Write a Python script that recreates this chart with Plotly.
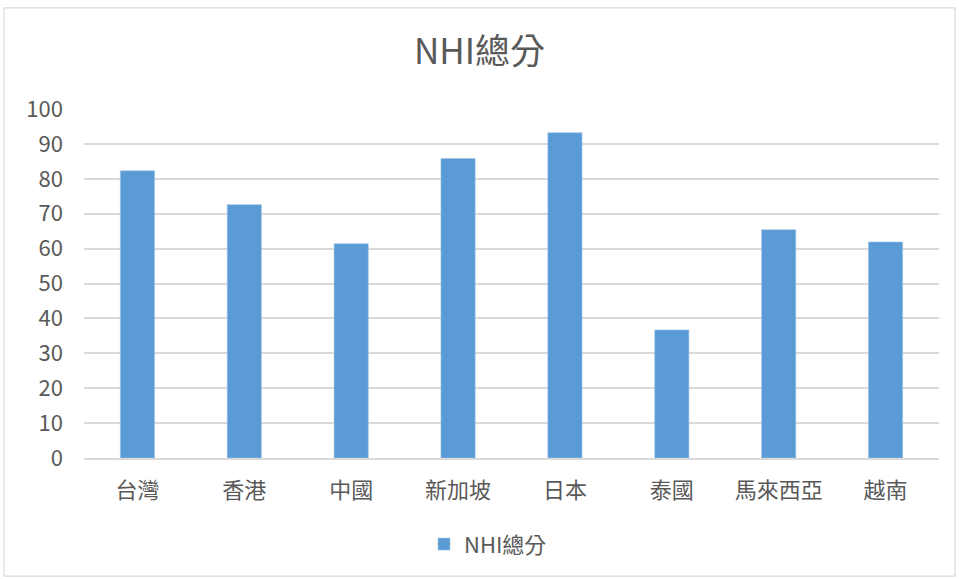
import plotly.graph_objects as go

categories = ["台灣", "香港", "中國", "新加坡", "日本", "泰國", "馬來西亞", "越南"]
nhi_scores = [82.3, 72.6, 61.4, 85.8, 93.2, 36.7, 65.4, 61.9]
y_ticks = [0, 10, 20, 30, 40, 50, 60, 70, 80, 90, 100]
series_name = "NHI總分"

FONT = "Noto Sans CJK TC, Open Sans, sans-serif"
TXT = "#595959"

fig = go.Figure()
fig.add_trace(go.Bar(
    x=categories, y=nhi_scores, name=series_name,
    marker=dict(color="#5B9BD5", line=dict(color="#9DC3E6", width=0.6)),
    showlegend=True,
))

L, R, T, B = 84, 20, 108.5, 120.5
W, H = 959, 579
pw, ph = W - L - R, H - T - B

def px_x(p):
    return (p - L) / pw

def px_y(p):
    return (H - B - p) / ph

fig.update_layout(
    width=W, height=H,
    margin=dict(l=L, r=R, t=T, b=B),
    paper_bgcolor="white", plot_bgcolor="white",
    font=dict(family=FONT, color=TXT, size=22),
    title=dict(text=series_name, x=0.5, xanchor="center", y=1 - 52 / H, yanchor="middle",
               font=dict(size=35, color=TXT, family=FONT)),
    bargap=0.68,
    xaxis=dict(showgrid=False, showline=True, linecolor="#D9D9D9", linewidth=1.8,
               tickfont=dict(size=22, color=TXT), ticks="", fixedrange=True,
               ticklabelstandoff=12),
    yaxis=dict(range=[0, 100], tickvals=y_ticks, showgrid=True, gridcolor="#D9D9D9",
               gridwidth=1.8, zeroline=False, showline=False, ticks="",
               tickfont=dict(size=22, color=TXT), ticklabelstandoff=20, fixedrange=True),
    legend=dict(orientation="h", x=px_x(488), xanchor="center", y=px_y(545), yanchor="middle",
                font=dict(size=22, color=TXT), itemwidth=30),
    shapes=[dict(type="rect", xref="paper", yref="paper",
                 x0=px_x(4), x1=px_x(955), y0=px_y(577), y1=px_y(7),
                 line=dict(color="#D9D9D9", width=1.2), fillcolor="rgba(0,0,0,0)", layer="below")],
)

fig.write_html("out.html", config={"displayModeBar": False},
               post_script="document.body.style.margin='0px';")
